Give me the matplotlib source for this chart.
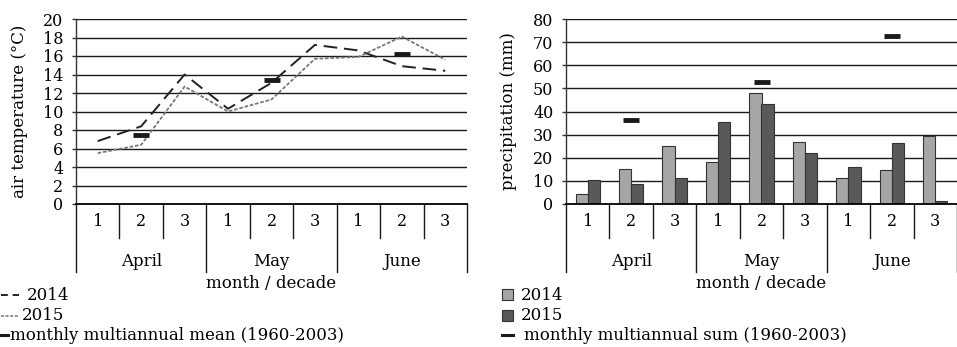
import matplotlib
matplotlib.use("Agg")
import matplotlib.pyplot as plt
from matplotlib.lines import Line2D
from matplotlib.patches import Rectangle
import numpy as np

plt.rcParams['font.family'] = ['DejaVu Serif']

decades = ["1", "2", "3", "1", "2", "3", "1", "2", "3"]
months = ["April", "May", "June"]
temp_2014 = [6.8, 8.4, 14.0, 10.3, 13.1, 17.2, 16.6, 14.9, 14.4]
temp_2015 = [5.5, 6.4, 12.7, 10.0, 11.3, 15.7, 15.9, 18.1, 15.6]
temp_mean = [7.5, 13.4, 16.2]
prec_2014 = [4.3, 15.2, 25.2, 18.1, 47.8, 26.6, 11.1, 14.8, 29.6]
prec_2015 = [10.3, 8.6, 11.4, 35.5, 43.3, 21.9, 15.9, 26.2, 1.1]
prec_sum = [36.2, 52.8, 72.5]

FS = 12
TFS = 11.5

W, H = 957, 347
fig = plt.figure(figsize=(W / 100, H / 100), dpi=100)

def fx(px):
    return px / W

def fy(py):
    return 1 - py / H

ax1 = fig.add_axes([fx(76), fy(204), fx(391), fy(19) - fy(204)])
ax2 = fig.add_axes([fx(566), fy(204), fx(391), fy(19) - fy(204)])

x = np.arange(9)
mx = [1, 4, 7]

def style(ax, ymax, step, ylabel, labx):
    ax.set_xlim(-0.5, 8.5)
    ax.set_ylim(0, ymax)
    ax.set_yticks(np.arange(0, ymax + 1, step))
    for v in np.arange(step, ymax + 1, step):
        ax.axhline(v, color='#1a1a1a', lw=1.0, zorder=0)
    ax.axhline(0, color='black', lw=1.3, zorder=5, clip_on=False)
    for s in ['top', 'right', 'bottom']:
        ax.spines[s].set_visible(False)
    ax.spines['left'].set_color('#333333')
    ax.spines['left'].set_linewidth(1.0)
    ax.tick_params(axis='y', length=3, width=1, color='#333333', labelsize=TFS, pad=6)
    ax.set_xticks([])
    ax.set_ylabel(ylabel, fontsize=FS)
    ax.yaxis.set_label_coords(labx, 0.5)
    tr = ax.get_xaxis_transform()
    axh = 185.0
    y_dec = -34 / axh
    y_mon = -68 / axh
    for b in [0.5, 1.5, 3.5, 4.5, 6.5, 7.5]:
        ax.plot([b, b], [0, y_dec], color='#1a1a1a', lw=1.0, transform=tr, clip_on=False)
    for b in [-0.5, 2.5, 5.5, 8.5]:
        ax.plot([b, b], [0, y_mon], color='#1a1a1a', lw=1.0, transform=tr, clip_on=False)
    for i, d in enumerate(decades):
        ax.text(i, -18 / axh, d, transform=tr, ha='center', va='center', fontsize=TFS)
    for i, m in enumerate(months):
        ax.text(mx[i], -58 / axh, m, transform=tr, ha='center', va='center', fontsize=FS)
    ax.text(4, -79 / axh, "month / decade", transform=tr, ha='center', va='center', fontsize=FS)

style(ax1, 20, 2, "air temperature (°C)", -0.123)
style(ax2, 80, 10, "precipitation (mm)", -0.125)

# temperature
ax1.plot(x, temp_2014, color='#222222', lw=1.4, dashes=(7, 3.5), zorder=3)
ax1.plot(x, temp_2015, color='#777777', lw=1.3, dashes=(2, 1), zorder=3)
ax1.plot(mx, temp_mean, ls='none', marker='_', markersize=11, markeredgewidth=3.5,
         color='#1a1a1a', zorder=4)

# precipitation
bw = 0.28
ax2.bar(x - bw / 2, prec_2014, width=bw, color='#a6a6a6', edgecolor='#333333', lw=0.8, zorder=3)
ax2.bar(x + bw / 2, prec_2015, width=bw, color='#595959', edgecolor='#333333', lw=0.8, zorder=3)
ax2.plot(mx, prec_sum, ls='none', marker='_', markersize=12, markeredgewidth=3.5,
         color='#1a1a1a', zorder=4)

# legends (manual)
rows = [295, 316, 335]
fig.add_artist(Line2D([fx(1), fx(19)], [fy(rows[0])] * 2, color='#222222', lw=1.4, dashes=(3.5, 2.5)))
fig.text(fx(27), fy(rows[0]), "2014", va='center', ha='left', fontsize=FS)
fig.add_artist(Line2D([fx(1), fx(19)], [fy(rows[1])] * 2, color='#777777', lw=1.1, dashes=(2, 1)))
fig.text(fx(22), fy(rows[1]), "2015", va='center', ha='left', fontsize=FS)
fig.add_artist(Line2D([fx(1), fx(8)], [fy(rows[2])] * 2, color='#1a1a1a', lw=2.2))
fig.text(fx(10), fy(rows[2]), "monthly multiannual mean (1960-2003)", va='center', ha='left', fontsize=FS)

for i, (c, lab) in enumerate([('#a6a6a6', "2014"), ('#595959', "2015")]):
    fig.add_artist(Rectangle((fx(502), fy(rows[i] + 5)), fx(11), fy(rows[i] - 6) - fy(rows[i] + 5),
                             facecolor=c, edgecolor='#333333', lw=0.8))
    fig.text(fx(521), fy(rows[i]), lab, va='center', ha='left', fontsize=FS)
fig.add_artist(Line2D([fx(502), fx(513)], [fy(rows[2])] * 2, color='#1a1a1a', lw=2.2))
fig.text(fx(524), fy(rows[2]), "monthly multiannual sum (1960-2003)", va='center', ha='left', fontsize=FS)

fig.savefig("out.png", dpi=100)
